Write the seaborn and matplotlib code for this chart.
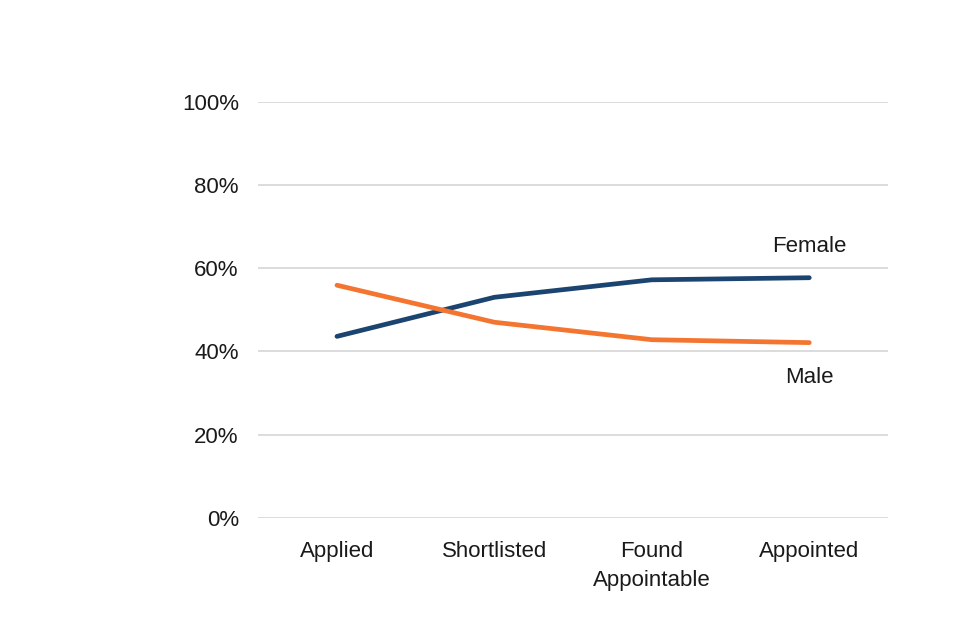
import numpy as np
import pandas as pd
import matplotlib
matplotlib.use("Agg")
import matplotlib.pyplot as plt
import seaborn as sns

# data
stages = ["Applied", "Shortlisted", "Found\nAppointable", "Appointed"]
female = [0.436, 0.53, 0.572, 0.577]
male = [0.559, 0.47, 0.428, 0.421]

df = pd.DataFrame({
    "stage": stages * 2,
    "share": female + male,
    "sex": ["Female"] * 4 + ["Male"] * 4,
})
df["x"] = list(range(4)) * 2

sns.set_theme(style="white")
plt.rcParams['font.family'] = ['Liberation Sans', 'DejaVu Sans']

fig = plt.figure(figsize=(9.6, 6.4), dpi=100)
ax = fig.add_axes([0.269, 0.191, 0.656, 0.65])

palette = {"Female": "#1b4470", "Male": "#f47530"}
sns.lineplot(data=df, x="x", y="share", hue="sex", palette=palette,
             linewidth=3.4, legend=False, ax=ax, solid_capstyle="round")

ax.set_xlim(-0.5, 3.5)
ax.set_ylim(0, 1)
ax.set_yticks(np.arange(0, 1.01, 0.2))
ax.set_yticklabels([f"{int(round(v * 100))}%" for v in np.arange(0, 1.01, 0.2)])
ax.set_xticks(range(4))
ax.set_xticklabels(stages, linespacing=1.45)
ax.yaxis.grid(True, color="#d9d9d9", linewidth=1.3)
ax.set_axisbelow(True)
for s in ax.spines.values():
    s.set_visible(False)
ax.tick_params(axis="both", length=0, labelsize=16, colors="#1a1a1a")
ax.tick_params(axis="y", pad=14)
ax.tick_params(axis="x", pad=17)
ax.set_xlabel("")
ax.set_ylabel("")

ax.text(3, female[3] + 0.075, "Female", ha="center", va="center", fontsize=16, color="#1a1a1a")
ax.text(3, male[3] - 0.085, "Male", ha="center", va="center", fontsize=16, color="#1a1a1a")

fig.savefig("out.png", dpi=100, facecolor="white")
